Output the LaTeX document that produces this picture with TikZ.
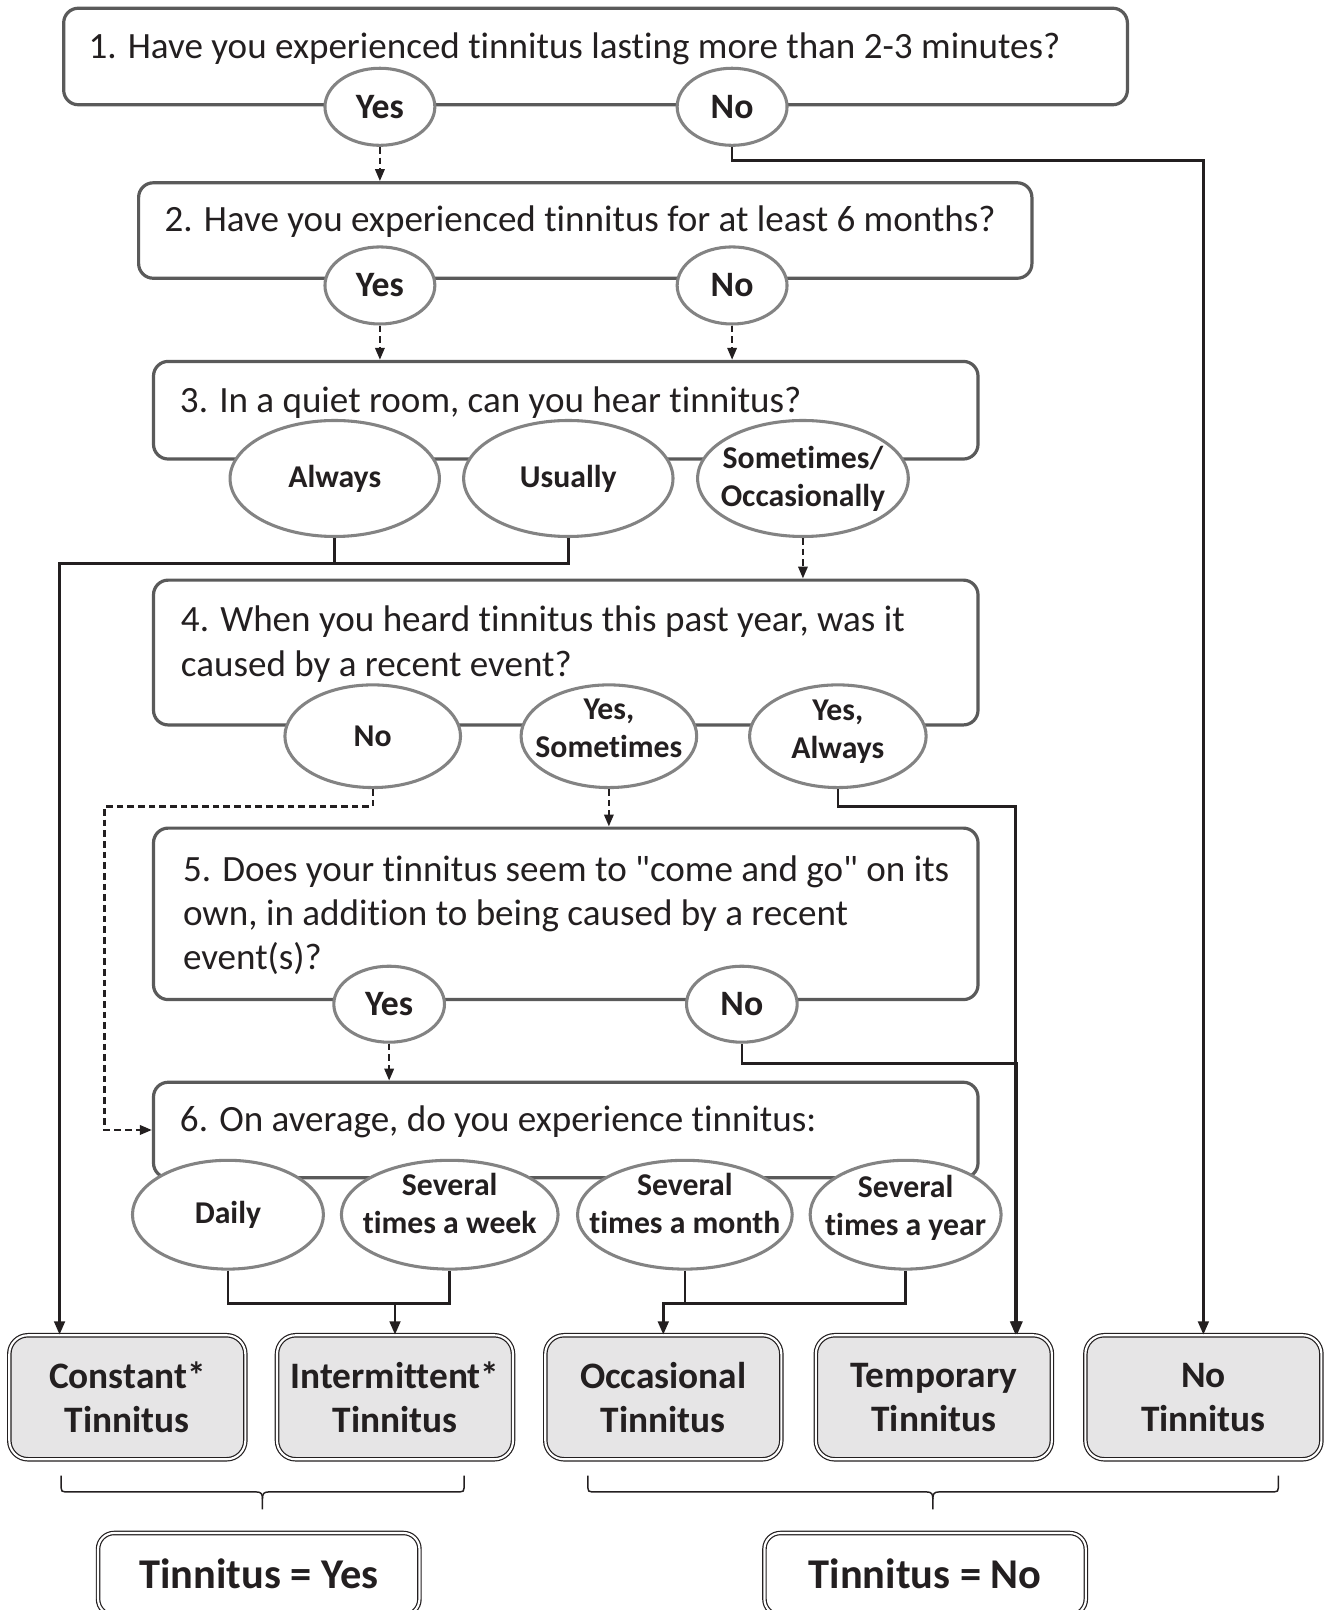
\documentclass[tikz,border=0pt]{standalone}
\usepackage{fontspec}
\setmainfont{Carlito}[Ligatures={NoCommon}]
\usetikzlibrary{shapes.geometric,arrows.meta,calc}
\definecolor{ink}{HTML}{231F20}
\definecolor{qgray}{HTML}{5A5A5A}
\definecolor{egray}{HTML}{838383}
\definecolor{ofill}{HTML}{E6E5E6}
\newcommand\liftlbl[2]{\raisebox{#1}[\height][\depth]{\begin{tabular}{@{}c@{}}#2\end{tabular}}}
\begin{document}
\begin{tikzpicture}[x=0.77pt,y=-0.77pt,
  qbox/.style={draw=qgray, line width=2.4pt, rounded corners=11pt, fill=white, inner sep=0pt},
  qtext/.style={anchor=base west, inner sep=0pt, text=ink, font=\fontsize{27.8}{34}\selectfont},
  opt/.style={ellipse, draw=egray, line width=2.3pt, fill=white, inner xsep=-22pt, inner ysep=-12pt, text=ink, align=center, font=\bfseries\fontsize{23.8}{28.5}\selectfont},
  yn/.style={opt, minimum width=82.4pt, minimum height=57.8pt, font=\bfseries\fontsize{26.8}{29}\selectfont},
  outbox/.style={draw=ink, line width=0.9pt, double=white, double distance=1.6pt, rounded corners=14pt, fill=ofill, inner sep=0pt, minimum width=177pt, minimum height=93pt, align=center, text=ink, font=\bfseries\fontsize{28}{33}\selectfont},
  finalbox/.style={draw=ink, line width=0.9pt, double=white, double distance=1.6pt, rounded corners=12pt, fill=white, inner sep=0pt, minimum width=241pt, minimum height=61.6pt, text=ink, font=\bfseries\fontsize{31.8}{36}\selectfont},
  conn/.style={draw=ink, line width=2pt},
  dconn/.style={draw=ink, line width=1.8pt, dash pattern=on 5pt off 3pt, -{Triangle[length=9pt,width=7pt]}},
  arr/.style={draw=ink, line width=2pt, -{Triangle[length=10pt,width=8pt]}},
  brace/.style={draw=ink, line width=1.1pt}
]
\path[use as bounding box] (0,0) rectangle (1295,1568);

% question boxes
\node[qbox, minimum width=797.7pt, minimum height=72.4pt] (q1) at (580,55) {};
\node[qbox, minimum width=669.9pt, minimum height=71.6pt] (q2) at (570,224.5) {};
\node[qbox, minimum width=618.3pt, minimum height=73.2pt] (q3) at (551,399.5) {};
\node[qbox, minimum width=618.3pt, minimum height=108.6pt] (q4) at (551,635.5) {};
\node[qbox, minimum width=618.3pt, minimum height=128.6pt] (q5) at (551,890) {};
\node[qbox, minimum width=618.3pt, minimum height=71.6pt] (q6) at (551,1100.5) {};

% question texts
\node[qtext] (t1) at (86,56.8) {1. Have you experienced tinnitus lasting more than 2-3 minutes?};
\node[qtext] (t2) at (160,225.6) {2. Have you experienced tinnitus for at least 6 months?};
\node[qtext] (t3) at (175,401.5) {3. In a quiet room, can you hear tinnitus?};
\node[qtext] (t4a) at (176,615) {4. When you heard tinnitus this past year, was it};
\node[qtext] (t4b) at (176,659) {caused by a recent event?};
\node[qtext] (t5a) at (178,858.5) {5. Does your tinnitus seem to \textquotedbl come and go\textquotedbl{} on its};
\node[qtext] (t5b) at (178,901.7) {own, in addition to being caused by a recent};
\node[qtext] (t5c) at (178,944.5) {event(s)?};
\node[qtext] (t6) at (175,1102) {6. On average, do you experience tinnitus:};

% options
\node[yn] (y1) at (370,104) {Yes};
\node[yn] (n1) at (713,104) {No};
\node[yn] (y2) at (370,278) {Yes};
\node[yn] (n2) at (713,278) {No};
\node[opt, minimum width=157pt, minimum height=87pt] (alw) at (326,466) {Always};
\node[opt, minimum width=157pt, minimum height=87pt] (usu) at (553.5,466) {Usually};
\node[opt, minimum width=158pt, minimum height=87pt] (som) at (782,466) {Sometimes/\\Occasionally};
\node[opt, minimum width=131.7pt, minimum height=77pt] (no4) at (363,717) {No};
\node[opt, minimum width=131.7pt, minimum height=77pt] (ysm) at (593,717) {\liftlbl{4pt}{Yes,\\Sometimes}};
\node[opt, minimum width=132.4pt, minimum height=77pt] (yal) at (816,717) {\liftlbl{3pt}{Yes,\\Always}};
\node[yn, minimum width=83pt, minimum height=57pt] (y5) at (379,978) {Yes};
\node[yn, minimum width=83pt, minimum height=57pt] (n5) at (722.5,978) {No};
\node[opt, minimum width=143.2pt, minimum height=81.6pt] (dly) at (222,1183) {Daily};
\node[opt, minimum width=162.5pt, minimum height=81.6pt] (wk) at (438,1183) {\liftlbl{6pt}{Several\\times a week}};
\node[opt, minimum width=161pt, minimum height=81.6pt] (mon) at (667,1183) {\liftlbl{6pt}{Several\\times a month}};
\node[opt, minimum width=143.2pt, minimum height=81.6pt] (yr) at (882,1183) {\liftlbl{4pt}{Several\\times a year}};

% outcomes
\node[outbox] (ocon) at (124,1360.8) {Constant*\\Tinnitus};
\node[outbox] (oint) at (384.7,1360.8) {Intermittent*\\Tinnitus};
\node[outbox] (oocc) at (646,1360.8) {Occasional\\Tinnitus};
\node[outbox] (otem) at (909.5,1360.8) {Temporary\\Tinnitus};
\node[outbox] (onone) at (1172,1360.8) {No\\Tinnitus};

\node[finalbox] (fyes) at (252,1533) {Tinnitus = Yes};
\node[finalbox] (fno) at (901,1533) {Tinnitus = No};

% helper coordinates
\coordinate (cx) at (58,0);
\coordinate (ct) at (989,0);
\coordinate (ct2) at (990.6,0);
\coordinate (j3) at ($(alw.south)+(0,25)$);
\coordinate (j6a) at ($(wk.south)+(0,32)$);
\coordinate (j6b) at ($(yr.south)+(0,32)$);

% connectors
\draw[dconn] (y1.south) -- (y1.south |- q2.north);
\draw[arr] (n1.south) -- ++(0,13) -| (onone.north);
\draw[dconn] (y2.south) -- (y2.south |- q3.north);
\draw[dconn] (n2.south) -- (n2.south |- q3.north);
\draw[conn] (alw.south) |- (j3 -| usu.south) -- (usu.south);
\draw[arr] (j3) -| (cx |- ocon.north);
\draw[dconn] (som.south) -- (som.south |- q4.north);
\draw[dconn] (no4.south) -- ++(0,17) -| ($(q6.west)+(-46,0)$) -- (q6.west);
\draw[dconn] (ysm.south) -- (ysm.south |- q5.north);
\draw[arr] (yal.south) -- ++(0,17) -| (ct |- otem.north);
\draw[dconn] (y5.south) -- (y5.south |- q6.north);
\draw[arr] (n5.south) -- ++(0,19) -| (ct2 |- otem.north);
\draw[conn] (dly.south) |- (j6a) -- (wk.south);
\draw[arr] (oint.north |- j6a) -- (oint.north);
\draw[conn] (mon.south) |- (j6b) -- (yr.south);
\draw[arr] (mon.south |- j6b) -| (oocc.north);

% braces
\draw[brace] (59.5,1437) -- (59.5,1449) .. controls (59.5,1452) and (60.5,1453) .. (63.5,1453) -- (249.6,1453) .. controls (254.6,1453) and (255.6,1455) .. (255.6,1460) -- (255.6,1470);
\draw[brace] (255.6,1460) .. controls (255.6,1455) and (256.6,1453) .. (261.6,1453) -- (448,1453) .. controls (451,1453) and (452,1452) .. (452,1449) -- (452,1437);
\draw[brace] (572.5,1437) -- (572.5,1449) .. controls (572.5,1452) and (573.5,1453) .. (576.5,1453) -- (902.5,1453) .. controls (907.5,1453) and (908.5,1455) .. (908.5,1460) -- (908.5,1470);
\draw[brace] (908.5,1460) .. controls (908.5,1455) and (909.5,1453) .. (914.5,1453) -- (1241,1453) .. controls (1244,1453) and (1245,1452) .. (1245,1449) -- (1245,1437);
\end{tikzpicture}
\end{document}
